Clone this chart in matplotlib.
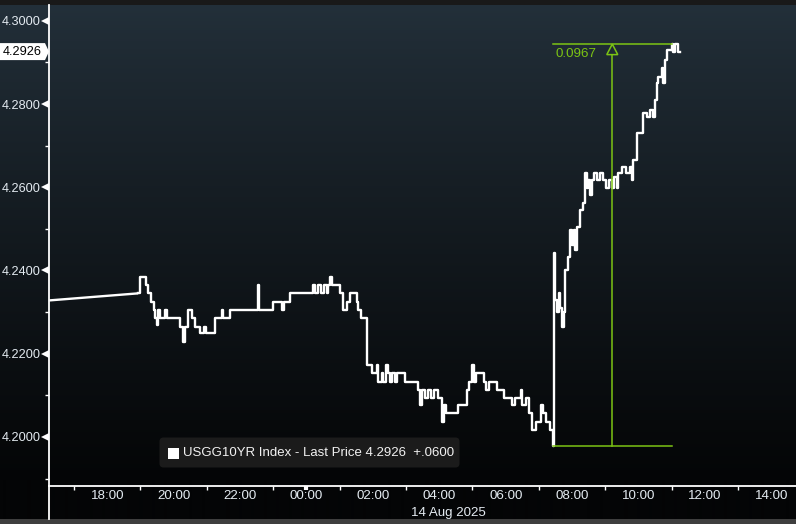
import numpy as np
import matplotlib
matplotlib.use("Agg")
import matplotlib.pyplot as plt
from matplotlib.patches import Polygon, FancyBboxPatch, Rectangle
from matplotlib.transforms import blended_transform_factory, IdentityTransform

plt.rcParams['font.family'] = ['Liberation Sans', 'DejaVu Sans']

W, H, DPI = 796, 524, 100

# ---------------- data (hours relative to 14 Aug 2025 00:00) ----------------
gap_hours = [-7.75, -5.07]
gap_yield = [4.2328, 4.2345]

hours = [-5.07, -5.02, -4.83, -4.77, -4.68, -4.60, -4.56, -4.50, -4.46, -4.41,
         -4.26, -4.20, -3.81, -3.71, -3.66, -3.56, -3.46, -3.36, -3.21, -3.10,
         -3.04, -2.76, -2.56, -2.52, -2.30, -1.47, -1.42, -1.00, -0.75, -0.68,
         -0.50, 0.20, 0.26, 0.35, 0.44, 0.53, 0.61, 0.66, 0.70, 0.76,
         1.01, 1.11, 1.21, 1.30, 1.51, 1.56, 1.65, 1.82, 1.96, 2.11,
         2.16, 2.26, 2.31, 2.40, 2.45, 2.52, 2.57, 2.66, 2.72, 2.97,
         3.37, 3.42, 3.47, 3.57, 3.65, 3.75, 3.85, 3.95, 4.07, 4.14,
         4.19, 4.57, 4.82, 4.90, 4.98, 5.05, 5.10, 5.35, 5.40, 5.50,
         5.75, 5.95, 6.20, 6.28, 6.45, 6.50, 6.60, 6.70, 6.80, 6.90,
         7.05, 7.12, 7.22, 7.32, 7.42, 7.44, 7.49, 7.55, 7.60, 7.65,
         7.70, 7.75, 7.79, 7.88, 7.94, 8.00, 8.05, 8.10, 8.14, 8.25,
         8.34, 8.39, 8.44, 8.48, 8.54, 8.59, 8.65, 8.75, 8.85, 8.93,
         9.02, 9.10, 9.19, 9.26, 9.34, 9.38, 9.50, 9.62, 9.74, 9.80,
         9.83, 9.95, 10.15, 10.25, 10.35, 10.45, 10.50, 10.55, 10.59, 10.70,
         10.75, 10.80, 10.85, 11.00, 11.05, 11.10, 11.18, 11.25]
yields = [4.2345, 4.2384, 4.2365, 4.2345, 4.2325, 4.2305, 4.2285, 4.2269, 4.2305, 4.2285,
          4.2305, 4.2285, 4.2265, 4.2229, 4.2265, 4.2305, 4.2285, 4.2265, 4.2249, 4.2265,
          4.2249, 4.2285, 4.2305, 4.2285, 4.2305, 4.2365, 4.2305, 4.2325, 4.2305, 4.2325,
          4.2345, 4.2365, 4.2345, 4.2365, 4.2345, 4.2365, 4.2345, 4.2365, 4.2384, 4.2365,
          4.2345, 4.2305, 4.2325, 4.2345, 4.2325, 4.2305, 4.2285, 4.2173, 4.2153, 4.2173,
          4.2133, 4.2153, 4.2133, 4.2173, 4.2153, 4.2133, 4.2153, 4.2133, 4.2153, 4.2133,
          4.2113, 4.2077, 4.2113, 4.2093, 4.2113, 4.2093, 4.2113, 4.2093, 4.2037, 4.2077,
          4.2057, 4.2077, 4.2113, 4.2133, 4.2173, 4.2133, 4.2153, 4.2133, 4.2113, 4.2133,
          4.2113, 4.2093, 4.2077, 4.2093, 4.2113, 4.2077, 4.2093, 4.2057, 4.2017, 4.2037,
          4.2077, 4.2057, 4.2037, 4.2017, 4.1977, 4.2442, 4.2330, 4.2300, 4.2346, 4.2310,
          4.2264, 4.2300, 4.2401, 4.2433, 4.2498, 4.2460, 4.2498, 4.2450, 4.2505, 4.2546,
          4.2563, 4.2635, 4.2599, 4.2618, 4.2582, 4.2618, 4.2635, 4.2618, 4.2635, 4.2618,
          4.2599, 4.2618, 4.2599, 4.2625, 4.2599, 4.2635, 4.2649, 4.2635, 4.2649, 4.2618,
          4.2666, 4.2730, 4.2778, 4.2769, 4.2786, 4.2769, 4.2810, 4.2850, 4.2866, 4.2887,
          4.2850, 4.2906, 4.2930, 4.2944, 4.2926, 4.2944, 4.2926, 4.2926]

ytick_vals = [4.20, 4.22, 4.24, 4.26, 4.28, 4.30]
yminor_vals = [4.19, 4.21, 4.23, 4.25, 4.27, 4.29]
xtick_hours = [-6, -4, -2, 0, 2, 4, 6, 8, 10, 12, 14]
xtick_labels = ["18:00", "20:00", "22:00", "00:00", "02:00", "04:00",
                "06:00", "08:00", "10:00", "12:00", "14:00"]
xminor_hours = [-7, -5, -3, -1, 1, 3, 5, 7, 9, 11, 13]
last_price = 4.2926
change_text = "+.0600"
series_name = "USGG10YR Index - Last Price"
date_label = "14 Aug 2025"

# ---------------- figure ----------------
fig = plt.figure(figsize=(W / DPI, H / DPI), dpi=DPI)
TXT = '#e4ebf1'
GREEN = '#7cc414'
FS = 9.6
FSY = 9.2

# gradient background
bg = fig.add_axes([0, 0, 1, 1])
bg.set_axis_off()
rows = np.arange(H)
tt = np.clip((rows - 5) / (480 - 5), 0, 1) ** 0.9
top = np.array([35, 48, 58]) / 255
bot = np.array([4, 5, 6]) / 255
grad = top[None, :] * (1 - tt[:, None]) + bot[None, :] * tt[:, None]
bg.imshow(grad[:, None, :], aspect='auto', extent=[0, 1, 0, 1], interpolation='bilinear')
bg.set_xlim(0, 1)
bg.set_ylim(0, 1)
bg.add_patch(Rectangle((0, 1 - 5 / H), 1, 5 / H, color='#191919', lw=0))
bg.add_patch(Rectangle((0, 0), 1, 5 / H, color='#3e3e3e', lw=0))


def P(x, y):
    """top-left pixel -> display coords"""
    return (x, H - y)


ax = fig.add_axes([49 / W, (H - 486) / H, (W - 49) / W, (486 - 5) / H])
ax.set_facecolor('none')
ax.set_xlim(-7.756, 14.744)
ax.set_ylim(4.1882, 4.3038)
for s in ['top', 'right']:
    ax.spines[s].set_visible(False)
for s in ['left', 'bottom']:
    ax.spines[s].set_color('white')
    ax.spines[s].set_linewidth(1.3)

ax.plot(gap_hours, gap_yield, color='white', lw=1.7, solid_capstyle='butt')
ax.plot(hours, yields, color='white', lw=1.7, drawstyle='steps-post')

# y axis
ax.set_yticks(ytick_vals)
ax.set_yticklabels([f"{v:.4f}" for v in ytick_vals])
ax.set_yticks(yminor_vals, minor=True)
ax.tick_params(axis='y', which='major', length=0, pad=6, labelsize=FSY, labelcolor=TXT)
ax.tick_params(axis='y', which='minor', length=3, width=1, color='white', direction='out')
trans_y = blended_transform_factory(ax.transAxes, ax.transData)
ax.plot([-4.5 / 747] * len(ytick_vals), ytick_vals, linestyle='none', marker='<',
        ms=5.5, color='white', mew=0, transform=trans_y, clip_on=False)

# x axis
ax.set_xticks(xtick_hours)
ax.set_xticklabels(xtick_labels)
ax.set_xticks(xminor_hours, minor=True)
ax.tick_params(axis='x', which='major', length=0, pad=3, labelsize=FS, labelcolor=TXT)
ax.tick_params(axis='x', which='minor', length=3, width=1, color='white', direction='out')
trans_x = blended_transform_factory(ax.transData, ax.transAxes)
ax.plot([0, 0], [0, -3.5 / 481], color='white', lw=3, transform=trans_x, clip_on=False,
        solid_capstyle='butt')

fig.text(448 / W, 1 - 513 / H, date_label, ha='center', va='center', color=TXT, fontsize=FS)

# left spine extension below x axis
fig.add_artist(plt.Line2D([49 / W, 49 / W], [(H - 519) / H, (H - 486) / H], color='white', lw=1.3))

# current price tag
yc = ax.transData.transform((0, last_price))[1]
tag = Polygon([(0, yc - 8.5), (45, yc - 8.5), (49, yc), (45, yc + 8.5), (0, yc + 8.5)],
              closed=True, facecolor='white', edgecolor='none', transform=IdentityTransform())
fig.add_artist(tag)
fig.text(42 / W, yc / H, f"{last_price:.4f}", ha='right', va='center', color='black', fontsize=FSY)

# high/low annotation
i_lo = int(np.argmin(yields))
i_hi = int(np.argmax(yields))
lo, hi = yields[i_lo], yields[i_hi]
t0, t1 = hours[i_lo], hours[i_hi]
tm = (t0 + t1) / 2
ax.plot([t0, t1], [hi, hi], color=GREEN, lw=1.1)
ax.plot([t0, t1], [lo, lo], color=GREEN, lw=1.1)
xa, ya = ax.transData.transform((tm, hi))
_, yl = ax.transData.transform((tm, lo))
tri = Polygon([(xa, ya), (xa - 5.5, ya - 10.5), (xa + 5.5, ya - 10.5)], closed=True,
              facecolor='none', edgecolor=GREEN, lw=1.1, transform=IdentityTransform())
fig.add_artist(tri)
fig.add_artist(plt.Line2D([xa, xa], [yl, ya - 10.5], color=GREEN, lw=1.1,
                          transform=IdentityTransform()))
ax.annotate(f"{hi - lo:.4f}", xy=(t0, hi), xytext=(3, -10), textcoords='offset pixels',
            ha='left', va='center', color=GREEN, fontsize=FS)

# legend box
leg = FancyBboxPatch(P(162, 465), 295, 25, boxstyle='round,pad=2.5,rounding_size=4',
                     facecolor='#1b1b1b', edgecolor='none', transform=IdentityTransform())
fig.add_artist(leg)
fig.add_artist(Rectangle(P(168, 459), 11, 11, facecolor='white', edgecolor='none',
                         transform=IdentityTransform()))
fig.text(183 / W, 1 - 453.5 / H, f"{series_name} {last_price:.4f}  {change_text}",
         ha='left', va='center', color='#f2f2f2', fontsize=9.5)

fig.savefig('out.png', dpi=DPI)
